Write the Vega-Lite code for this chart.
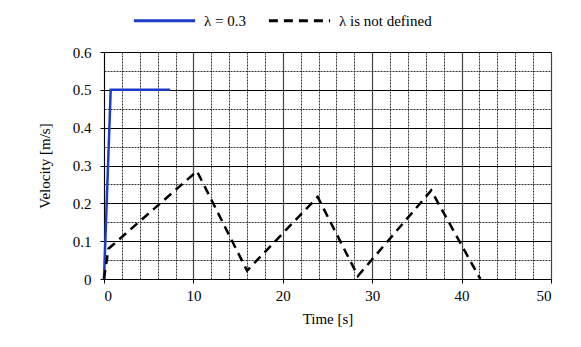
{
  "$schema": "https://vega.github.io/schema/vega-lite/v6.json",
  "width": 447,
  "height": 227,
  "autosize": {"type": "none"},
  "padding": {"left": 104, "top": 52, "right": 30, "bottom": 68},
  "background": "white",
  "config": {
    "font": "Liberation Serif",
    "view": {"stroke": null},
    "axis": {"labelFont": "Liberation Serif", "titleFont": "Liberation Serif", "labelFontSize": 15, "titleFontSize": 15, "titleFontWeight": "normal", "labelColor": "black", "titleColor": "black"},
    "legend": {"labelFont": "Liberation Serif", "labelFontSize": 15, "labelColor": "black"}
  },
  "data": {
    "values": [
      {"series": "λ = 0.3", "t": 0, "v": 0},
      {"series": "λ = 0.3", "t": 0.75, "v": 0.5},
      {"series": "λ = 0.3", "t": 7.4, "v": 0.5},
      {"series": "λ is not defined", "t": 0, "v": 0},
      {"series": "λ is not defined", "t": 0.5, "v": 0.08},
      {"series": "λ is not defined", "t": 10.4, "v": 0.285},
      {"series": "λ is not defined", "t": 16.0, "v": 0.022},
      {"series": "λ is not defined", "t": 23.9, "v": 0.217},
      {"series": "λ is not defined", "t": 28.4, "v": 0.008},
      {"series": "λ is not defined", "t": 36.6, "v": 0.234},
      {"series": "λ is not defined", "t": 42.1, "v": 0}
    ]
  },
  "resolve": {"axis": {"x": "independent", "y": "independent"}},
  "layer": [
    {
      "transform": [{"filter": "datum.series === 'λ = 0.3'"}],
      "mark": {"type": "line", "strokeWidth": 2.5},
      "encoding": {
        "x": {"field": "t", "type": "quantitative", "scale": {"domain": [0, 50], "nice": false},
          "axis": {"orient": "bottom", "values": [0,2,4,6,8,10,12,14,16,18,20,22,24,26,28,30,32,34,36,38,40,42,44,46,48,50], "grid": true, "gridDash": [2, 1], "gridColor": "#333", "gridWidth": 1, "labels": false, "ticks": false, "domain": false, "title": null}},
        "y": {"field": "v", "type": "quantitative", "scale": {"domain": [0, 0.6], "nice": false},
          "axis": {"orient": "left", "values": [0,0.05,0.1,0.15,0.2,0.25,0.3,0.35,0.4,0.45,0.5,0.55,0.6], "grid": true, "gridDash": [2, 1], "gridColor": "#333", "gridWidth": 1, "labels": false, "ticks": false, "domain": false, "title": null}},
        "color": {"field": "series", "type": "nominal", "scale": {"domain": ["λ = 0.3", "λ is not defined"], "range": ["#1a3cc8", "#000000"]},
          "legend": {"title": null, "orient": "none", "direction": "horizontal", "legendX": 28, "legendY": -64, "symbolType": "stroke", "symbolSize": 3750, "symbolStrokeWidth": 3, "labelOffset": 7, "columnPadding": 16, "padding": 0, "labelFont": "Liberation Serif", "labelFontSize": 15}},
        "strokeDash": {"field": "series", "type": "nominal", "scale": {"domain": ["λ = 0.3", "λ is not defined"], "range": [[1, 0], [9, 6]]}}
      }
    },
    {
      "transform": [{"filter": "datum.series === 'λ is not defined'"}],
      "mark": {"type": "line", "strokeWidth": 2.5},
      "encoding": {
        "x": {"field": "t", "type": "quantitative", "scale": {"domain": [0, 50], "nice": false},
          "axis": {"orient": "bottom", "values": [0,10,20,30,40,50], "grid": true, "gridColor": "#444", "gridWidth": 1.2, "domainColor": "black", "tickColor": "black", "tickSize": 4, "labelPadding": 5, "labelFont": "Liberation Serif", "labelFontSize": 15, "title": "Time [s]", "titleFont": "Liberation Serif", "titleFontSize": 15, "titlePadding": 8}},
        "y": {"field": "v", "type": "quantitative", "scale": {"domain": [0, 0.6], "nice": false},
          "axis": {"orient": "left", "values": [0,0.1,0.2,0.3,0.4,0.5,0.6], "format": "~g", "grid": true, "gridColor": "#000", "gridWidth": 1, "domainColor": "black", "tickColor": "black", "tickSize": 4, "labelPadding": 9, "labelFont": "Liberation Serif", "labelFontSize": 15, "title": "Velocity [m/s]", "titleFont": "Liberation Serif", "titleFontSize": 15, "titlePadding": 20}},
        "color": {"field": "series", "type": "nominal", "scale": {"domain": ["λ = 0.3", "λ is not defined"], "range": ["#1a3cc8", "#000000"]}},
        "strokeDash": {"field": "series", "type": "nominal", "scale": {"domain": ["λ = 0.3", "λ is not defined"], "range": [[1, 0], [9, 6]]}}
      }
    }
  ]
}
